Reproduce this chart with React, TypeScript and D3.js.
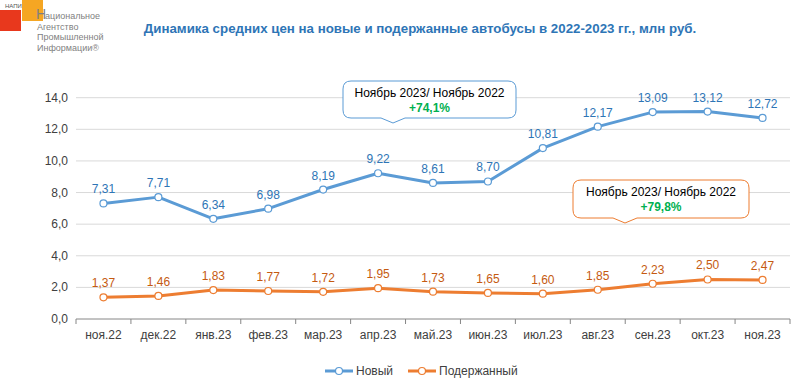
import React from "react";
import * as d3 from "d3";

const months = ["ноя.22", "дек.22", "янв.23", "фев.23", "мар.23", "апр.23", "май.23", "июн.23", "июл.23", "авг.23", "сен.23", "окт.23", "ноя.23"];
const newBus = [7.31, 7.71, 6.34, 6.98, 8.19, 9.22, 8.61, 8.70, 10.81, 12.17, 13.09, 13.12, 12.72];
const usedBus = [1.37, 1.46, 1.83, 1.77, 1.72, 1.95, 1.73, 1.65, 1.60, 1.85, 2.23, 2.50, 2.47];
const yTicks = [0, 2, 4, 6, 8, 10, 12, 14];

const BLUE = "#5b9bd5";
const ORANGE = "#ed7d31";
const FONT = "Liberation Sans, Arial, sans-serif";

const fmt = (v: number, d: number) => v.toFixed(d).replace(".", ",");

export default function App() {
  const width = 800;
  const height = 387;
  const x = d3.scaleBand<string>().domain(months).range([76, 790]);
  const y = d3.scaleLinear().domain([0, 14]).range([319, 97.7]);
  const cx = (m: string) => (x(m) as number) + x.bandwidth() / 2;

  const line = d3.line<number>()
    .x((_, i) => cx(months[i]))
    .y((d) => y(d));

  const callout = (x0: number, y0: number, w: number, h: number, px: number, color: string, val: string) => {
    const r = 8;
    const x1 = x0 + w, y1 = y0 + h;
    const p = `M${x0 + r},${y0} H${x1 - r} Q${x1},${y0} ${x1},${y0 + r} V${y1 - r} Q${x1},${y1} ${x1 - r},${y1}` +
      ` H${px + 12} L${px},${y1 + 5} L${px - 12},${y1} H${x0 + r} Q${x0},${y1} ${x0},${y1 - r} V${y0 + r} Q${x0},${y0} ${x0 + r},${y0} Z`;
    return (
      <g>
        <path d={p} fill="#fff" stroke={color} strokeWidth={1} />
        <text x={x0 + w / 2} y={y0 + 16} textAnchor="middle" fontSize={12} fill="#000">Ноябрь 2023/ Ноябрь 2022</text>
        <text x={x0 + w / 2} y={y0 + 31} textAnchor="middle" fontSize={12} fontWeight="bold" fill="#00b050">{val}</text>
      </g>
    );
  };

  return (
    <svg width={width} height={height} style={{ position: "absolute", left: 0, top: 0 }} fontFamily={FONT}>
      <rect width={width} height={height} fill="#fff" />
      {/* logo */}
      <rect x={0} y={10} width={21} height={21} fill="#e8381d" />
      <rect x={22} y={0} width={21} height={21} fill="#f5a623" />
      <text x={5} y={8} fontSize={6} fill="#555">НАПИ</text>
      <g fontSize={9} fill="#7f7f7f" fontFamily="Liberation Sans Narrow, Arial Narrow, sans-serif">
        <text x={36} y={19} fontSize={14}>Н</text>
        <text x={45} y={19}>ациональное</text>
        <text x={37} y={29.5}>Агентство</text>
        <text x={37} y={40}>Промышленной</text>
        <text x={37} y={50.5}>Информации®</text>
      </g>
      <text x={420} y={33} textAnchor="middle" fontSize={13.3} fontWeight="bold" fill="#2e75b6">
        Динамика средних цен на новые и подержанные автобусы в 2022-2023 гг., млн руб.
      </text>
      {yTicks.map((t) => (
        <g key={t}>
          {t > 0 && <line x1={76} x2={790} y1={y(t)} y2={y(t)} stroke="#d9d9d9" />}
          <text x={68} y={y(t) + 4} textAnchor="end" fontSize={12} fill="#404040">{fmt(t, 1)}</text>
        </g>
      ))}
      <line x1={76} x2={790} y1={y(0)} y2={y(0)} stroke="#868686" />
      {d3.range(months.length + 1).map((i) => {
        const xx = 76 + i * x.step();
        return <line key={i} x1={xx} x2={xx} y1={y(0)} y2={y(0) + 5} stroke="#868686" />;
      })}
      {months.map((m) => (
        <text key={m} x={cx(m)} y={y(0) + 20} textAnchor="middle" fontSize={12} fill="#404040">{m}</text>
      ))}
      <path d={line(newBus) as string} fill="none" stroke={BLUE} strokeWidth={3} strokeLinejoin="round" />
      <path d={line(usedBus) as string} fill="none" stroke={ORANGE} strokeWidth={3} strokeLinejoin="round" />
      {newBus.map((v, i) => (
        <g key={"n" + i}>
          <circle cx={cx(months[i])} cy={y(v)} r={3.5} fill="#fff" stroke={BLUE} strokeWidth={1.2} />
          <text x={cx(months[i])} y={y(v) - 10} textAnchor="middle" fontSize={12} fill="#2e75b6">{fmt(v, 2)}</text>
        </g>
      ))}
      {usedBus.map((v, i) => (
        <g key={"u" + i}>
          <circle cx={cx(months[i])} cy={y(v)} r={3.5} fill="#fff" stroke={ORANGE} strokeWidth={1.2} />
          <text x={cx(months[i])} y={y(v) - 10} textAnchor="middle" fontSize={12} fill="#c55a11">{fmt(v, 2)}</text>
        </g>
      ))}
      {callout(343, 81, 173, 37, 393, BLUE, "+74,1%")}
      {callout(573, 180, 176, 38, 625, ORANGE, "+79,8%")}
      {/* legend */}
      <line x1={325} x2={353} y1={371} y2={371} stroke={BLUE} strokeWidth={3} />
      <circle cx={339} cy={371} r={3.5} fill="#fff" stroke={BLUE} strokeWidth={1.2} />
      <text x={356} y={375} fontSize={12} fill="#404040">Новый</text>
      <line x1={408} x2={436} y1={371} y2={371} stroke={ORANGE} strokeWidth={3} />
      <circle cx={422} cy={371} r={3.5} fill="#fff" stroke={ORANGE} strokeWidth={1.2} />
      <text x={439} y={375} fontSize={12} fill="#404040">Подержанный</text>
    </svg>
  );
}
